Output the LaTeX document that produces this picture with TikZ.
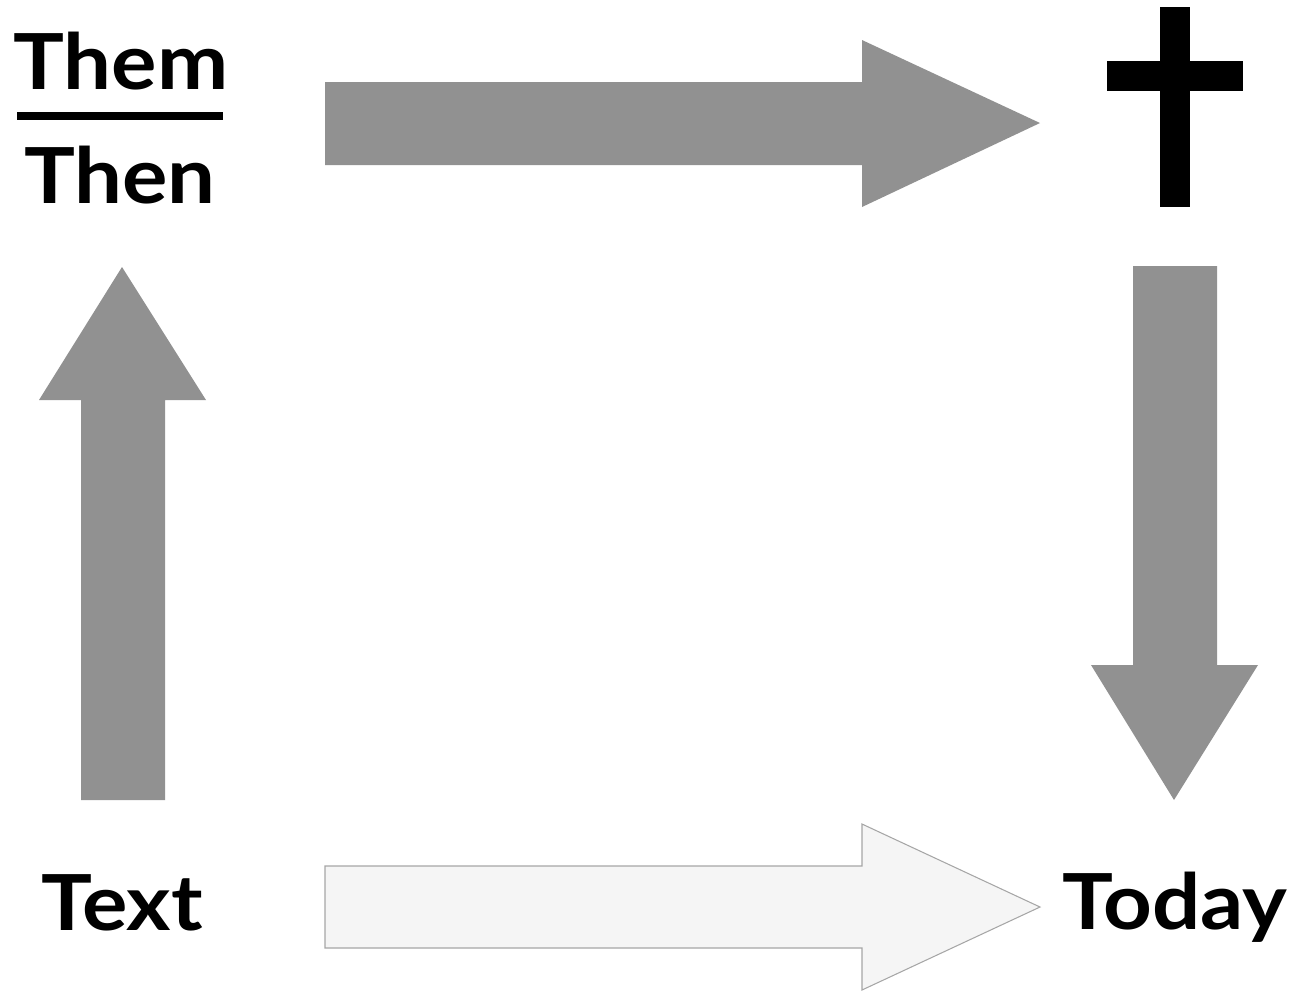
\documentclass[tikz,border=0pt]{standalone}
\usepackage{fontspec}
\setmainfont{Lato}[FakeStretch=1.1]
\definecolor{arrowgray}{HTML}{919191}
\definecolor{palegray}{HTML}{F5F5F5}
\tikzset{
  bigarrow/.style={fill=arrowgray, draw=none},
  openarrow/.style={fill=palegray, draw=gray!70, line width=0.6pt},
  word/.style={anchor=base, inner sep=0pt, font=\fontsize{44}{50}\selectfont\bfseries}
}
\begin{document}
\begin{tikzpicture}[x=0.02cm, y=-0.02cm]
  \useasboundingbox (0,0) rectangle (1295,992);

  % Labels -------------------------------------------------------
  \node[word] (them)  at (121,89)   {Them};
  \node[word] (then)  at (120,203)  {Then};
  \node[word] (text)  at (122,930)  {Text};
  \node[word] (today) at (1175,929) {Today};
  \fill (17,112) rectangle (223,120);

  % Cross --------------------------------------------------------
  \fill (1160,7) rectangle (1190,207);
  \fill (1107,61) rectangle (1243,91);

  % Arrows -------------------------------------------------------
  \fill[bigarrow] (325,82) -- (862,82) -- (862,40) -- (1040,123)
    -- (862,207) -- (862,165) -- (325,165) -- cycle;
  \fill[bigarrow] (81,800) -- (81,400) -- (39,400) -- (122,267)
    -- (206,400) -- (165,400) -- (165,800) -- cycle;
  \fill[bigarrow] (1133,266) -- (1217,266) -- (1217,665) -- (1258,665)
    -- (1174,800) -- (1091,665) -- (1133,665) -- cycle;
  \draw[openarrow] (325,866) -- (862,866) -- (862,824) -- (1040,907)
    -- (862,990) -- (862,948) -- (325,948) -- cycle;
\end{tikzpicture}
\end{document}
